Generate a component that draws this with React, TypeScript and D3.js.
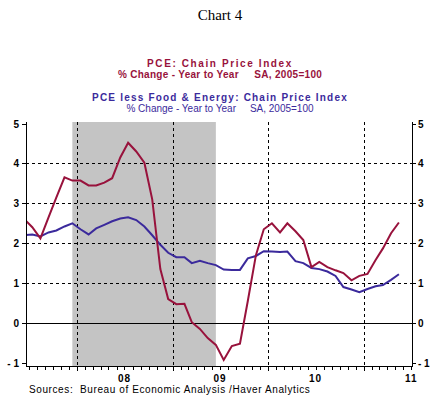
import React, { useEffect, useRef } from 'react'
import * as d3 from 'd3'

// monthly data, first obs Jun 2007, last obs May 2011
const firstYear = 2007
const firstMonth = 5
const pce = [
  2.6, 2.4, 2.12, 2.65, 3.15, 3.65, 3.57,
  3.57, 3.45, 3.45, 3.52, 3.63, 4.15, 4.52, 4.3, 4.02, 3.1, 1.35, 0.6,
  0.47, 0.48, 0.02, -0.15, -0.38, -0.55, -0.93, -0.58, -0.52, 0.55, 1.7, 2.35,
  2.5, 2.27, 2.5, 2.3, 2.08, 1.4, 1.53, 1.4, 1.32, 1.25, 1.07, 1.18,
  1.23, 1.58, 1.87, 2.25, 2.52,
]
const pceCore = [
  2.2, 2.22, 2.17, 2.27, 2.32, 2.42, 2.5,
  2.35, 2.22, 2.37, 2.46, 2.55, 2.62, 2.65, 2.58, 2.42, 2.2, 1.96, 1.76,
  1.65, 1.65, 1.5, 1.56, 1.5, 1.45, 1.34, 1.33, 1.33, 1.62, 1.68, 1.8,
  1.79, 1.78, 1.79, 1.55, 1.5, 1.38, 1.35, 1.29, 1.18, 0.9, 0.84, 0.77,
  0.85, 0.92, 0.95, 1.08, 1.22,
]
const yearLabels = ['08', '09', '10', '11']
const yTicks = [-1, 0, 1, 2, 3, 4, 5]
const gridValues = [1, 2, 3, 4]
const recessionStart = new Date(2007, 11, 15)
const recessionEnd = new Date(2009, 5, 15)

const RED = '#98123c'
const BLUE = '#3b2a9c'

export default function App() {
  const ref = useRef<SVGSVGElement>(null)

  useEffect(() => {
    document.body.style.margin = '0'
    const svg = d3.select(ref.current)
    svg.selectAll('*').remove()

    const left = 26, right = 412, top = 122, bottom = 366

    const x = d3.scaleTime()
      .domain([new Date(2007, 5, 21), new Date(2011, 6, 4)])
      .range([left, right])
    const y = d3.scaleLinear().domain([-1.08, 5.04]).range([bottom, top])

    const date = (i: number) => new Date(firstYear, firstMonth + i, 15)

    // titles
    svg.append('text').attr('x', 220).attr('y', 20).attr('text-anchor', 'middle')
      .style('font-family', '"Liberation Serif", "Times New Roman", serif').style('font-size', '15px')
      .text('Chart 4')

    const titles = [
      { t: 'PCE: Chain Price Index', y: 67, c: RED, w: 'bold', ls: 1.6 },
      { t: '% Change - Year to Year     SA, 2005=100', y: 78, c: RED, w: 'bold', ls: 0.3 },
      { t: 'PCE less Food & Energy: Chain Price Index', y: 101, c: BLUE, w: 'bold', ls: 1.2 },
      { t: '% Change - Year to Year     SA, 2005=100', y: 112, c: BLUE, w: 'normal', ls: 0 },
    ]
    titles.forEach(d => {
      svg.append('text').attr('x', 220).attr('y', d.y).attr('text-anchor', 'middle')
        .attr('fill', d.c)
        .style('font-family', '"Liberation Sans", Arial, sans-serif')
        .style('font-size', '10px').style('font-weight', d.w)
        .style('letter-spacing', d.ls + 'px').style('white-space', 'pre')
        .text(d.t)
    })

    // recession shading
    svg.append('rect')
      .attr('x', x(recessionStart)).attr('y', top)
      .attr('width', x(recessionEnd) - x(recessionStart)).attr('height', bottom - top)
      .attr('fill', '#c4c4c4')

    // grid
    svg.selectAll('.hgrid').data(gridValues).enter().append('line')
      .attr('x1', left).attr('x2', right)
      .attr('y1', d => Math.round(y(d)) + 0.5).attr('y2', d => Math.round(y(d)) + 0.5)
      .attr('stroke', '#000').attr('stroke-dasharray', '3,3')

    const years = [2008, 2009, 2010, 2011].map(yr => new Date(yr, 0, 1))
    svg.selectAll('.vgrid').data(years).enter().append('line')
      .attr('x1', d => Math.round(x(d)) + 0.5).attr('x2', d => Math.round(x(d)) + 0.5)
      .attr('y1', top).attr('y2', bottom)
      .attr('stroke', '#000').attr('stroke-dasharray', '3,3')

    svg.append('line').attr('x1', left).attr('x2', right)
      .attr('y1', Math.round(y(0)) + 0.5).attr('y2', Math.round(y(0)) + 0.5).attr('stroke', '#000')

    // series
    svg.append('clipPath').attr('id', 'plotclip').append('rect')
      .attr('x', left).attr('y', top).attr('width', right - left).attr('height', bottom - top)

    const line = d3.line<number>().x((d, i) => x(date(i))).y(d => y(d))
    svg.append('path').datum(pceCore).attr('d', line).attr('fill', 'none')
      .attr('stroke', BLUE).attr('stroke-width', 2).attr('clip-path', 'url(#plotclip)')
    svg.append('path').datum(pce).attr('d', line).attr('fill', 'none')
      .attr('stroke', RED).attr('stroke-width', 2).attr('clip-path', 'url(#plotclip)')

    // axes frame
    const frame = svg.append('g').attr('stroke', '#000')
    frame.append('line').attr('x1', left + 0.5).attr('x2', left + 0.5).attr('y1', top).attr('y2', bottom + 1)
    frame.append('line').attr('x1', right + 0.5).attr('x2', right + 0.5).attr('y1', top).attr('y2', bottom + 1)
    frame.append('line').attr('x1', left).attr('x2', right + 1).attr('y1', bottom + 0.5).attr('y2', bottom + 0.5)

    // y ticks and labels, both sides
    const lab = (sel: any) => sel
      .style('font-family', '"Liberation Sans", Arial, sans-serif')
      .style('font-size', '10px').style('font-weight', 'bold')
    yTicks.forEach(v => {
      const yy = Math.round(y(v)) + 0.5
      frame.append('line').attr('x1', left - 4).attr('x2', left).attr('y1', yy).attr('y2', yy)
      frame.append('line').attr('x1', right).attr('x2', right + 4).attr('y1', yy).attr('y2', yy)
      const s = v < 0 ? '- ' + Math.abs(v) : String(v)
      lab(svg.append('text').attr('x', left - 7).attr('y', yy + 3.5).attr('text-anchor', 'end').style('white-space', 'pre').text(s))
      lab(svg.append('text').attr('x', right + 6).attr('y', yy + 3.5).attr('text-anchor', 'start').style('white-space', 'pre').text(s))
    })

    // x ticks: months
    const months = d3.timeMonth.range(new Date(2007, 6, 1), new Date(2011, 6, 2))
    frame.selectAll('.mt').data(months).enter().append('line')
      .attr('x1', d => Math.round(x(d)) + 0.5).attr('x2', d => Math.round(x(d)) + 0.5)
      .attr('y1', bottom).attr('y2', d => bottom + (d.getMonth() === 0 ? 5 : 4))

    yearLabels.forEach((t, i) => {
      lab(svg.append('text').attr('x', x(new Date(2008 + i, 6, 1))).attr('y', 382)
        .attr('text-anchor', 'middle').style('letter-spacing', '1px').text(t))
    })

    svg.append('text').attr('x', 29).attr('y', 393)
      .style('font-family', '"Liberation Sans", Arial, sans-serif')
      .style('font-size', '10px').style('letter-spacing', '0.6px').style('white-space', 'pre')
      .text('Sources:  Bureau of Economic Analysis /Haver Analytics')
  }, [])

  return <svg ref={ref} width={440} height={398} style={{ display: 'block', background: '#fff' }} />
}
